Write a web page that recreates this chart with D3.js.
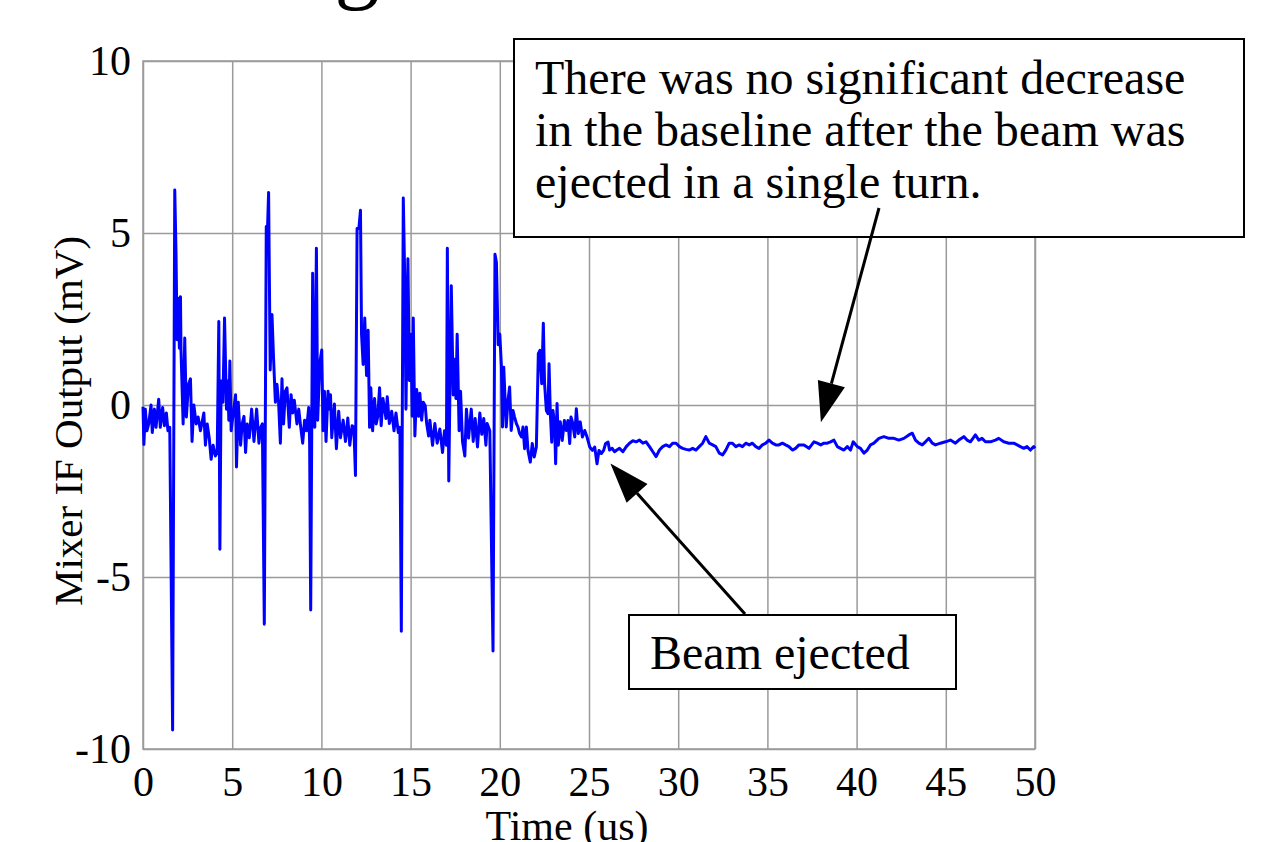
<!DOCTYPE html>
<html>
<head>
<meta charset="utf-8">
<script src="https://cdn.jsdelivr.net/npm/d3@7/dist/d3.min.js"></script>
<style>
  body { margin: 0; background: #fff; }
  svg { display: block; font-family: "Liberation Serif", "Times New Roman", serif; }
  .grid line { stroke: #9a9a9a; stroke-width: 1.5; }
  .grid text { fill: #000; font-size: 42px; font-family: "Liberation Serif", "Times New Roman", serif; }
</style>
</head>
<body>
<svg id="chart" width="1267" height="842"></svg>
<script>
let times = [
  0.00, 0.05, 0.13, 0.22, 0.32, 0.45, 0.52, 0.64, 0.73, 0.88, 0.97, 1.10, 1.20, 1.31, 1.40, 1.50,
  1.66, 1.78, 1.85, 1.91, 1.97, 2.04, 2.10, 2.13, 2.25, 2.34, 2.43, 2.55, 2.66, 2.75, 2.85, 2.98,
  3.09, 3.22, 3.41, 3.50, 3.60, 3.71, 3.82, 3.93, 4.06, 4.16, 4.25, 4.31, 4.38, 4.48, 4.57, 4.68,
  4.76, 4.81, 4.87, 4.94, 5.06, 5.19, 5.24, 5.34, 5.47, 5.56, 5.66, 5.75, 5.84, 5.96, 6.09, 6.22,
  6.37, 6.50, 6.60, 6.69, 6.80, 6.91, 6.98, 7.04, 7.13, 7.23, 7.32, 7.42, 7.51, 7.60, 7.70, 7.79,
  7.88, 7.98, 8.07, 8.20, 8.30, 8.39, 8.48, 8.63, 8.73, 8.82, 8.95, 9.06, 9.16, 9.29, 9.34, 9.40,
  9.51, 9.57, 9.63, 9.72, 9.79, 9.91, 10.02, 10.09, 10.17, 10.26, 10.37, 10.45, 10.51, 10.58, 10.73, 10.84,
  10.97, 11.07, 11.22, 11.35, 11.48, 11.59, 11.72, 11.82, 11.91, 12.00, 12.10, 12.19, 12.25, 12.34, 12.43, 12.53,
  12.62, 12.70, 12.77, 12.87, 12.98, 13.07, 13.16, 13.26, 13.35, 13.45, 13.62, 13.69, 13.81, 13.94, 14.07, 14.18,
  14.31, 14.40, 14.48, 14.59, 14.68, 14.74, 14.85, 14.93, 15.02, 15.09, 15.15, 15.24, 15.34, 15.45, 15.52, 15.62,
  15.71, 15.82, 15.90, 16.01, 16.08, 16.23, 16.36, 16.49, 16.64, 16.79, 16.90, 17.01, 17.06, 17.14, 17.28, 17.39,
  17.48, 17.54, 17.61, 17.72, 17.80, 17.91, 18.04, 18.13, 18.25, 18.40, 18.51, 18.62, 18.75, 18.88, 18.99, 19.10,
  19.22, 19.29, 19.44, 19.62, 19.73, 19.81, 19.91, 20.00, 20.09, 20.15, 20.22, 20.29, 20.36, 20.46, 20.55, 20.64,
  20.74, 20.83, 20.93, 21.02, 21.11, 21.22, 21.30, 21.39, 21.49, 21.58, 21.71, 21.82, 21.93, 22.05, 22.16, 22.25,
  22.35, 22.44, 22.51, 22.61, 22.70, 22.76, 22.83, 22.91, 22.98, 23.07, 23.13, 23.21, 23.28, 23.39, 23.50, 23.62,
  23.73, 23.82, 23.92, 23.99, 24.07, 24.20, 24.29, 24.40, 24.51, 24.63, 24.76, 24.89, 25.04, 25.19, 25.32, 25.45,
  25.56, 25.69, 25.82, 25.93, 26.07, 26.15, 26.30, 26.43, 26.56, 26.71, 26.90, 27.09, 27.27, 27.46, 27.64, 27.83,
  28.02, 28.20, 28.39, 28.58, 28.76, 28.95, 29.13, 29.32, 29.51, 29.69, 29.88, 30.07, 30.25, 30.44, 30.62, 30.81,
  31.00, 31.18, 31.37, 31.55, 31.74, 31.93, 32.11, 32.30, 32.49, 32.67, 32.86, 33.04, 33.23, 33.42, 33.60, 33.79,
  33.98, 34.16, 34.35, 34.53, 34.72, 34.91, 35.09, 35.28, 35.47, 35.65, 35.84, 36.02, 36.21, 36.40, 36.58, 36.77,
  37.05, 37.33, 37.61, 37.80, 37.99, 38.17, 38.36, 38.54, 38.73, 38.92, 39.10, 39.29, 39.48, 39.66, 39.81, 40.04,
  40.22, 40.41, 40.60, 40.78, 40.97, 41.25, 41.53, 41.81, 42.09, 42.37, 42.65, 42.93, 43.12, 43.30, 43.49, 43.68,
  43.86, 44.05, 44.24, 44.42, 44.70, 44.98, 45.26, 45.54, 45.73, 46.01, 46.19, 46.38, 46.66, 46.85, 47.03, 47.22,
  47.50, 47.78, 47.97, 48.25, 48.53, 48.81, 49.00, 49.18, 49.37, 49.55, 49.74, 49.93, 50.00
];

let mixerOutput = [
  -0.05, -1.15, -0.12, -0.75, -0.55, 0.00, -0.80, -0.12, -0.65, 0.17, -0.65, -0.07, -0.60, -0.23, -0.75, -0.65,
  -9.45, 6.25, 4.45, 1.90, 3.10, 1.65, 3.15, 1.60, -0.55, 1.95, -0.35, 0.60, 0.76, -1.06, 0.00, -0.55,
  -0.35, -0.75, -0.23, -1.17, -0.55, -0.95, -1.58, -1.17, -1.48, -1.38, 2.43, -4.19, 0.70, 0.08, 2.53, -0.12,
  0.70, -0.44, 1.28, -0.75, -0.23, 0.30, -1.80, 0.08, -1.17, -0.55, -0.33, -1.38, -0.55, -0.95, -0.12, -1.06,
  -0.12, -1.11, -0.65, -0.55, -6.37, 5.19, 5.13, 6.18, 1.02, 2.63, 1.33, 0.08, 0.60, 0.08, -1.11, 0.76,
  -0.55, 0.40, 0.50, -0.65, 0.30, -0.23, 0.14, -0.55, -0.12, -0.55, -1.11, -0.44, -0.75, -0.07, -1.11, -5.96,
  3.83, 0.30, -0.65, 4.56, -0.44, 1.23, 1.60, -0.75, 0.40, -1.06, 0.40, -0.12, 0.30, -0.95, 0.03, -1.27,
  -0.18, -0.95, -0.44, -1.06, -0.38, -1.17, -0.60, -0.65, -2.05, 5.13, 5.13, 5.66, 2.06, 1.18, 2.53, 0.86,
  2.17, -0.65, 0.50, -0.75, 0.19, -0.55, -0.33, 0.50, -0.60, 0.19, -0.39, 0.24, -0.54, -0.18, -0.75, -0.23,
  -0.80, -0.65, -6.58, 6.02, 3.42, -0.12, 4.25, 0.71, 2.06, -0.33, 2.53, -0.90, 0.45, -0.33, 0.34, -0.44,
  0.08, -0.02, -0.54, -0.90, -0.44, -1.17, -0.54, -1.11, -0.70, -1.38, -0.75, -1.17, 4.56, -2.21, 3.47, 0.29,
  1.33, 0.19, 2.06, -0.75, 0.40, -1.06, -1.48, -0.12, -0.96, -0.12, -1.06, -0.39, -1.22, -0.23, -0.85, -0.39,
  -1.17, -0.54, -0.75, -7.15, 4.38, 4.15, 1.75, 2.06, 1.13, -0.64, 1.10, 0.23, -0.64, 0.14, 0.52, -0.74,
  -0.16, -0.35, -0.54, -0.64, -0.83, -0.93, -0.64, -1.27, -0.64, -1.32, -1.66, -1.12, -1.51, -1.22, 1.49, 1.59,
  0.62, 2.38, 0.62, -0.16, -0.25, 1.20, -0.20, -1.08, -0.16, -0.54, -1.71, 0.04, -1.17, -0.49, -1.03, -0.45,
  -0.74, -0.45, -1.12, -0.35, -0.49, -0.93, -0.11, -0.83, -0.49, -0.93, -0.74, -0.93, -1.22, -1.32, -1.22, -1.71,
  -1.32, -1.41, -1.32, -1.12, -1.08, -1.31, -1.26, -1.36, -1.31, -1.26, -1.36, -1.21, -1.11, -1.04, -1.07, -1.02,
  -1.11, -1.07, -1.21, -1.36, -1.50, -1.31, -1.21, -1.16, -1.21, -1.11, -1.11, -1.21, -1.26, -1.29, -1.31, -1.26,
  -1.31, -1.21, -1.11, -0.92, -1.11, -1.16, -1.21, -1.40, -1.45, -1.31, -1.11, -1.11, -1.21, -1.16, -1.21, -1.11,
  -1.16, -1.11, -1.21, -1.26, -1.16, -1.11, -1.02, -1.11, -1.16, -1.16, -1.11, -1.16, -1.21, -1.31, -1.26, -1.16,
  -1.16, -1.26, -1.07, -1.11, -1.16, -1.11, -1.11, -1.07, -1.02, -1.21, -1.26, -1.31, -1.21, -1.31, -1.07, -1.21,
  -1.26, -1.40, -1.31, -1.16, -1.11, -0.97, -0.92, -0.97, -0.97, -1.02, -0.97, -0.87, -0.82, -1.02, -1.11, -1.16,
  -1.07, -0.97, -1.11, -1.16, -1.11, -1.07, -1.02, -1.11, -1.02, -0.92, -1.02, -1.07, -0.87, -1.02, -0.97, -1.07,
  -1.07, -1.02, -0.97, -1.07, -1.11, -1.11, -1.16, -1.21, -1.26, -1.21, -1.31, -1.21, -1.26
];

let xTicks = [0, 5, 10, 15, 20, 25, 30, 35, 40, 45, 50];
let yTicks = [-10, -5, 0, 5, 10];

let noteText = ["There was no significant decrease", "in the baseline after the beam was", "ejected in a single turn."];
let ejectText = ["Beam ejected"];

let svg = d3.select("#chart");
let margin = { top: 61, right: 232, bottom: 93, left: 143 };
let width = 1267 - margin.left - margin.right;
let height = 842 - margin.top - margin.bottom;

let x = d3.scaleLinear().domain([0, 50]).range([0, width]);
let y = d3.scaleLinear().domain([-10, 10]).range([height, 0]);

// clipped title above the plot, only its descender is visible
svg.append("text")
  .attr("x", 357)
  .attr("y", -8)
  .attr("text-anchor", "middle")
  .style("font-size", "90px")
  .text("g");

let g = svg.append("g")
  .attr("transform", "translate(" + margin.left + "," + margin.top + ")");

g.append("g")
  .attr("class", "grid")
  .attr("transform", "translate(0," + height + ")")
  .call(d3.axisBottom(x).tickValues(xTicks).tickSize(-height).tickPadding(17).tickFormat(d => String(d)))
  .call(ax => ax.select(".domain").remove());

g.append("g")
  .attr("class", "grid")
  .call(d3.axisLeft(y).tickValues(yTicks).tickSize(-width).tickPadding(12).tickFormat(d => String(d)))
  .call(ax => ax.select(".domain").remove());

g.selectAll(".grid").attr("font-family", null).attr("font-size", null);

g.append("rect")
  .attr("width", width)
  .attr("height", height)
  .attr("fill", "none")
  .attr("stroke", "#9a9a9a")
  .attr("stroke-width", 1.5);

let line = d3.line()
  .x((d, i) => x(times[i]))
  .y(d => y(d));

g.append("path")
  .datum(mixerOutput)
  .attr("fill", "none")
  .attr("stroke", "#0000ff")
  .attr("stroke-width", 3)
  .attr("stroke-linejoin", "round")
  .attr("d", line);

// axis titles
svg.append("text")
  .attr("x", 567)
  .attr("y", 840)
  .attr("text-anchor", "middle")
  .style("font-size", "42px")
  .text("Time (us)");

svg.append("text")
  .attr("transform", "translate(82,421) rotate(-90)")
  .attr("text-anchor", "middle")
  .style("font-size", "41px")
  .text("Mixer IF Output (mV)");

// arrows drawn from a box point to a data point
function arrow(x1, y1, tx, ty) {
  let px = margin.left + x(tx), py = margin.top + y(ty);
  let dx = px - x1, dy = py - y1, len = Math.sqrt(dx * dx + dy * dy);
  let ux = dx / len, uy = dy / len;
  let bx = px - ux * 40, by = py - uy * 40;
  svg.append("line")
    .attr("x1", x1).attr("y1", y1)
    .attr("x2", bx).attr("y2", by)
    .attr("stroke", "#000").attr("stroke-width", 3);
  svg.append("polygon")
    .attr("points", [[px, py], [bx - uy * 14, by + ux * 14], [bx + uy * 14, by - ux * 14]].map(p => p.join(",")).join(" "))
    .attr("fill", "#000");
}

function note(lines, bx, by, bw, bh, tx, ty) {
  svg.append("rect")
    .attr("x", bx).attr("y", by)
    .attr("width", bw).attr("height", bh)
    .attr("fill", "#fff")
    .attr("stroke", "#000")
    .attr("stroke-width", 2);
  svg.selectAll(null)
    .data(lines)
    .enter()
    .append("text")
    .attr("x", tx)
    .attr("y", (d, i) => ty + i * 52)
    .style("font-size", "48px")
    .text(d => d);
}

note(noteText, 514, 39, 730, 198, 535, 94);
arrow(879, 208, 38.0, -0.5);

arrow(745, 614, 26.2, -1.7);
note(ejectText, 629, 615, 327, 74, 650, 669);
</script>
</body>
</html>
